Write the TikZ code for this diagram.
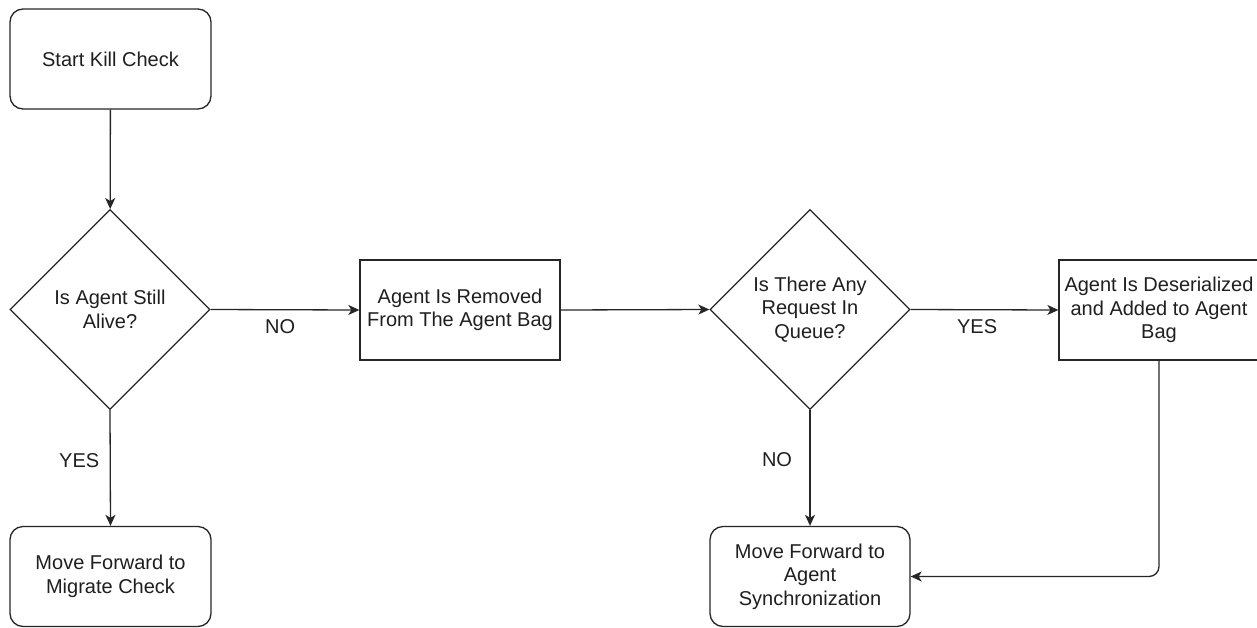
\documentclass[tikz,border=0pt]{standalone}
\usepackage{fontspec}
\setmainfont{Liberation Sans}
\usetikzlibrary{shapes.geometric,arrows.meta}
\begin{document}
\begin{tikzpicture}[x=1pt,y=-1pt,
  every node/.style={font=\fontsize{20}{23.5}\selectfont, text=black!88, align=center},
  base/.style={draw=black!85, line width=1.3pt, inner sep=0pt, fill=white},
  roundbox/.style={base, rectangle, rounded corners=13pt, minimum width=201pt, minimum height=100pt},
  plainbox/.style={base, rectangle, minimum width=200pt, minimum height=100pt},
  decision/.style={base, diamond, aspect=1, minimum width=200pt, minimum height=200pt},
  conn/.style={draw=black!85, line width=1.3pt, -{Stealth[length=11pt,width=10pt,inset=3pt]}},
  lbl/.style={fill=none, draw=none, inner sep=0pt}
]
\useasboundingbox (0,0) rectangle (1257,627);
\node[roundbox] (start) at (110.5,59) {Start Kill Check};
\node[decision] (alive) at (110,309.5) {Is Agent Still\\Alive?};
\node[plainbox] (removed) at (460,310) {Agent Is Removed\\From The Agent Bag};
\node[decision] (queue) at (810,309.5) {Is There Any\\Request In\\Queue?};
\node[plainbox] (deser) at (1159,310) {Agent Is Deserialized\\and Added to Agent\\Bag};
\node[roundbox] (migrate) at (110.5,576.5) {Move Forward to\\Migrate Check};
\node[roundbox, minimum width=200pt] (sync) at (810,576.5) {Move Forward to\\Agent\\Synchronization};

\draw[conn] (start) -- (alive);
\draw[conn] (alive.east) -- node[lbl, pos=0.467, yshift=-17pt] {NO} (removed.west);
\draw[conn] (alive.south) -- node[lbl, pos=0.44, xshift=-31pt] {YES} (migrate.north);
\draw[conn] (removed.east) -- (queue.west);
\draw[conn] (queue.east) -- node[lbl, pos=0.45, yshift=-17pt] {YES} (deser.west);
\draw[conn] (queue.south) -- node[lbl, pos=0.43, xshift=-33pt] {NO} (sync.north);
\draw[conn, rounded corners=10pt] (deser.south) |- (sync.east);
\end{tikzpicture}
\end{document}
